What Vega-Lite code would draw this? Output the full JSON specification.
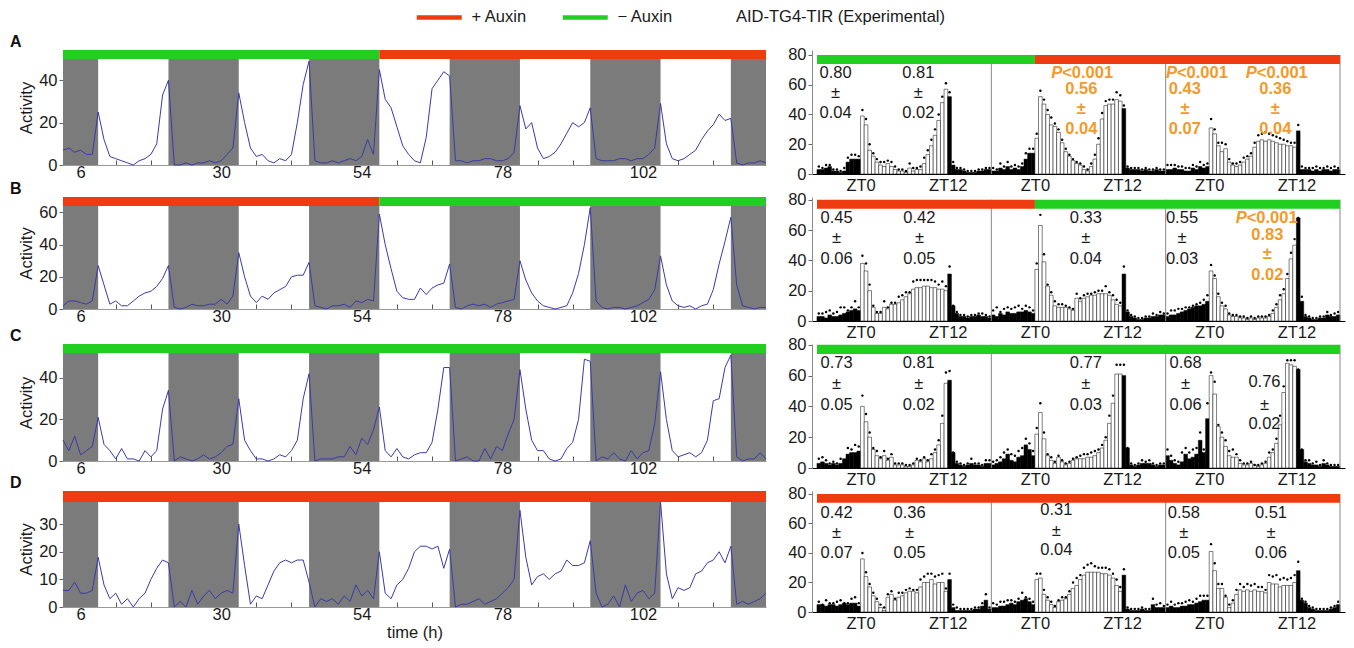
{
"$schema":"https://vega.github.io/schema/vega-lite/v6.json",
"padding":{"left":10,"top":9,"right":9,"bottom":3},
"background":"#ffffff",
"spacing":-13,
"config":{"view":{"stroke":null},"font":"Liberation Sans","axis":{"labelFont":"Liberation Sans","labelFontSize":16.5,"labelColor":"#1a1a1a","titleFont":"Liberation Sans","titleFontSize":16.5,"titleFontWeight":"normal","titleColor":"#1a1a1a","grid":false,"tickColor":"#666","domainColor":"#888","labelOverlap":false},"text":{"font":"Liberation Sans"},"title":{"font":"Liberation Sans"}},
"datasets":{
"DK":[{"a":3,"b":9},{"a":21,"b":33},{"a":45,"b":57},{"a":69,"b":81},{"a":93,"b":105},{"a":117,"b":123}],
"DV":[{"x":47.5},{"x":95.5},{"x":143.5}],
"TL":[{"p":"A","a":3,"b":57,"c":"− Auxin"},{"p":"A","a":57,"b":123,"c":"+ Auxin"},{"p":"B","a":3,"b":57,"c":"+ Auxin"},{"p":"B","a":57,"b":123,"c":"− Auxin"},{"p":"C","a":3,"b":123,"c":"− Auxin"},{"p":"D","a":3,"b":123,"c":"+ Auxin"}],
"TR":[{"p":"A","a":-0.5,"b":59.5,"c":"− Auxin"},{"p":"A","a":59.5,"b":143.5,"c":"+ Auxin"},{"p":"B","a":-0.5,"b":59.5,"c":"+ Auxin"},{"p":"B","a":59.5,"b":143.5,"c":"− Auxin"},{"p":"C","a":-0.5,"b":143.5,"c":"− Auxin"},{"p":"D","a":-0.5,"b":143.5,"c":"+ Auxin"}],
"PL":[{"p":"A","x":67,"y":68},{"p":"A","x":98.6,"y":68},{"p":"A","x":120.6,"y":68},{"p":"B","x":117.8,"y":68}],
"N":[
{"p":"A","x":4.6,"y":68,"t":"0.80","o":0},{"p":"A","x":4.6,"y":54.5,"t":"±","o":0},{"p":"A","x":4.6,"y":41,"t":"0.04","o":0},
{"p":"A","x":27.4,"y":68,"t":"0.81","o":0},{"p":"A","x":27.4,"y":54.5,"t":"±","o":0},{"p":"A","x":27.4,"y":41,"t":"0.02","o":0},
{"p":"A","x":72.3,"y":57,"t":"0.56","o":1},{"p":"A","x":72.3,"y":44,"t":"±","o":1},{"p":"A","x":72.3,"y":30.5,"t":"0.04","o":1},
{"p":"A","x":100.8,"y":57,"t":"0.43","o":1},{"p":"A","x":100.8,"y":44,"t":"±","o":1},{"p":"A","x":100.8,"y":30.5,"t":"0.07","o":1},
{"p":"A","x":125.7,"y":57,"t":"0.36","o":1},{"p":"A","x":125.7,"y":44,"t":"±","o":1},{"p":"A","x":125.7,"y":30.5,"t":"0.04","o":1},
{"p":"B","x":4.9,"y":68,"t":"0.45","o":0},{"p":"B","x":4.9,"y":54.5,"t":"±","o":0},{"p":"B","x":4.9,"y":41,"t":"0.06","o":0},
{"p":"B","x":27.7,"y":68,"t":"0.42","o":0},{"p":"B","x":27.7,"y":54.5,"t":"±","o":0},{"p":"B","x":27.7,"y":41,"t":"0.05","o":0},
{"p":"B","x":73.5,"y":68,"t":"0.33","o":0},{"p":"B","x":73.5,"y":54.5,"t":"±","o":0},{"p":"B","x":73.5,"y":41,"t":"0.04","o":0},
{"p":"B","x":100,"y":68,"t":"0.55","o":0},{"p":"B","x":100,"y":54.5,"t":"±","o":0},{"p":"B","x":100,"y":41,"t":"0.03","o":0},
{"p":"B","x":123.5,"y":57,"t":"0.83","o":1},{"p":"B","x":123.5,"y":44,"t":"±","o":1},{"p":"B","x":123.5,"y":30.5,"t":"0.02","o":1},
{"p":"C","x":4.9,"y":68,"t":"0.73","o":0},{"p":"C","x":4.9,"y":54.5,"t":"±","o":0},{"p":"C","x":4.9,"y":41,"t":"0.05","o":0},
{"p":"C","x":27.5,"y":68,"t":"0.81","o":0},{"p":"C","x":27.5,"y":54.5,"t":"±","o":0},{"p":"C","x":27.5,"y":41,"t":"0.02","o":0},
{"p":"C","x":73.5,"y":68,"t":"0.77","o":0},{"p":"C","x":73.5,"y":54.5,"t":"±","o":0},{"p":"C","x":73.5,"y":41,"t":"0.03","o":0},
{"p":"C","x":101,"y":68,"t":"0.68","o":0},{"p":"C","x":101,"y":54.5,"t":"±","o":0},{"p":"C","x":101,"y":41,"t":"0.06","o":0},
{"p":"C","x":122.7,"y":55.6,"t":"0.76","o":0},{"p":"C","x":122.7,"y":41,"t":"±","o":0},{"p":"C","x":122.7,"y":28.4,"t":"0.02","o":0},
{"p":"D","x":4.9,"y":67,"t":"0.42","o":0},{"p":"D","x":4.9,"y":53.5,"t":"±","o":0},{"p":"D","x":4.9,"y":40,"t":"0.07","o":0},
{"p":"D","x":25,"y":67,"t":"0.36","o":0},{"p":"D","x":25,"y":53.5,"t":"±","o":0},{"p":"D","x":25,"y":40,"t":"0.05","o":0},
{"p":"D","x":65.4,"y":69.2,"t":"0.31","o":0},{"p":"D","x":65.4,"y":54.6,"t":"±","o":0},{"p":"D","x":65.4,"y":42.2,"t":"0.04","o":0},
{"p":"D","x":100.5,"y":67,"t":"0.58","o":0},{"p":"D","x":100.5,"y":53.5,"t":"±","o":0},{"p":"D","x":100.5,"y":40,"t":"0.05","o":0},
{"p":"D","x":124.5,"y":67,"t":"0.51","o":0},{"p":"D","x":124.5,"y":53.5,"t":"±","o":0},{"p":"D","x":124.5,"y":40,"t":"0.06","o":0}],
"LA":[{"t":3,"v":7},{"t":4,"v":8},{"t":5,"v":6},{"t":6,"v":7},{"t":7,"v":5},{"t":8,"v":5},{"t":9,"v":25},{"t":10,"v":12},{"t":11,"v":4},{"t":12,"v":3},{"t":13,"v":2},{"t":14,"v":1},{"t":15,"v":0},{"t":16,"v":2},{"t":17,"v":3},{"t":18,"v":5},{"t":19,"v":10},{"t":20,"v":33},{"t":21,"v":40},{"t":22,"v":0},{"t":23,"v":0},{"t":24,"v":1},{"t":25,"v":0},{"t":26,"v":1},{"t":27,"v":1},{"t":28,"v":2},{"t":29,"v":1},{"t":30,"v":2},{"t":31,"v":5},{"t":32,"v":8},{"t":33,"v":34},{"t":34,"v":20},{"t":35,"v":8},{"t":36,"v":4},{"t":37,"v":5},{"t":38,"v":2},{"t":39,"v":1},{"t":40,"v":3},{"t":41,"v":2},{"t":42,"v":5},{"t":43,"v":20},{"t":44,"v":38},{"t":45,"v":49},{"t":46,"v":2},{"t":47,"v":1},{"t":48,"v":1},{"t":49,"v":2},{"t":50,"v":1},{"t":51,"v":2},{"t":52,"v":3},{"t":53,"v":2},{"t":54,"v":4},{"t":55,"v":12},{"t":56,"v":5},{"t":57,"v":45},{"t":58,"v":31},{"t":59,"v":27},{"t":60,"v":18},{"t":61,"v":9},{"t":62,"v":5},{"t":63,"v":2},{"t":64,"v":1},{"t":65,"v":13},{"t":66,"v":36},{"t":67,"v":40},{"t":68,"v":44},{"t":69,"v":42},{"t":70,"v":2},{"t":71,"v":2},{"t":72,"v":1},{"t":73,"v":2},{"t":74,"v":2},{"t":75,"v":3},{"t":76,"v":3},{"t":77,"v":2},{"t":78,"v":2},{"t":79,"v":3},{"t":80,"v":6},{"t":81,"v":28},{"t":82,"v":17},{"t":83,"v":20},{"t":84,"v":8},{"t":85,"v":3},{"t":86,"v":4},{"t":87,"v":6},{"t":88,"v":10},{"t":89,"v":15},{"t":90,"v":20},{"t":91,"v":18},{"t":92,"v":20},{"t":93,"v":27},{"t":94,"v":3},{"t":95,"v":2},{"t":96,"v":2},{"t":97,"v":2},{"t":98,"v":3},{"t":99,"v":3},{"t":100,"v":2},{"t":101,"v":3},{"t":102,"v":3},{"t":103,"v":5},{"t":104,"v":8},{"t":105,"v":29},{"t":106,"v":10},{"t":107,"v":3},{"t":108,"v":2},{"t":109,"v":3},{"t":110,"v":5},{"t":111,"v":7},{"t":112,"v":12},{"t":113,"v":16},{"t":114,"v":19},{"t":115,"v":24},{"t":116,"v":21},{"t":117,"v":22},{"t":118,"v":1},{"t":119,"v":0},{"t":120,"v":1},{"t":121,"v":1},{"t":122,"v":2},{"t":123,"v":1}],
"LB":[{"t":3,"v":2},{"t":4,"v":5},{"t":5,"v":5},{"t":6,"v":4},{"t":7,"v":3},{"t":8,"v":5},{"t":9,"v":27},{"t":10,"v":15},{"t":11,"v":3},{"t":12,"v":5},{"t":13,"v":2},{"t":14,"v":2},{"t":15,"v":5},{"t":16,"v":8},{"t":17,"v":10},{"t":18,"v":11},{"t":19,"v":14},{"t":20,"v":19},{"t":21,"v":27},{"t":22,"v":1},{"t":23,"v":0},{"t":24,"v":1},{"t":25,"v":3},{"t":26,"v":2},{"t":27,"v":2},{"t":28,"v":3},{"t":29,"v":3},{"t":30,"v":6},{"t":31,"v":3},{"t":32,"v":8},{"t":33,"v":35},{"t":34,"v":20},{"t":35,"v":8},{"t":36,"v":4},{"t":37,"v":8},{"t":38,"v":6},{"t":39,"v":10},{"t":40,"v":12},{"t":41,"v":14},{"t":42,"v":20},{"t":43,"v":21},{"t":44,"v":21},{"t":45,"v":29},{"t":46,"v":2},{"t":47,"v":1},{"t":48,"v":0},{"t":49,"v":2},{"t":50,"v":2},{"t":51,"v":3},{"t":52,"v":1},{"t":53,"v":5},{"t":54,"v":4},{"t":55,"v":6},{"t":56,"v":5},{"t":57,"v":59},{"t":58,"v":40},{"t":59,"v":25},{"t":60,"v":11},{"t":61,"v":7},{"t":62,"v":6},{"t":63,"v":6},{"t":64,"v":13},{"t":65,"v":9},{"t":66,"v":13},{"t":67,"v":15},{"t":68,"v":16},{"t":69,"v":28},{"t":70,"v":1},{"t":71,"v":0},{"t":72,"v":2},{"t":73,"v":3},{"t":74,"v":2},{"t":75,"v":3},{"t":76,"v":1},{"t":77,"v":3},{"t":78,"v":4},{"t":79,"v":5},{"t":80,"v":6},{"t":81,"v":30},{"t":82,"v":18},{"t":83,"v":10},{"t":84,"v":5},{"t":85,"v":2},{"t":86,"v":1},{"t":87,"v":0},{"t":88,"v":1},{"t":89,"v":2},{"t":90,"v":10},{"t":91,"v":22},{"t":92,"v":40},{"t":93,"v":63},{"t":94,"v":5},{"t":95,"v":1},{"t":96,"v":0},{"t":97,"v":1},{"t":98,"v":1},{"t":99,"v":0},{"t":100,"v":1},{"t":101,"v":2},{"t":102,"v":4},{"t":103,"v":6},{"t":104,"v":12},{"t":105,"v":33},{"t":106,"v":15},{"t":107,"v":5},{"t":108,"v":2},{"t":109,"v":1},{"t":110,"v":2},{"t":111,"v":0},{"t":112,"v":2},{"t":113,"v":3},{"t":114,"v":12},{"t":115,"v":28},{"t":116,"v":42},{"t":117,"v":57},{"t":118,"v":15},{"t":119,"v":2},{"t":120,"v":1},{"t":121,"v":0},{"t":122,"v":1},{"t":123,"v":1}],
"LC":[{"t":3,"v":10},{"t":4,"v":5},{"t":5,"v":12},{"t":6,"v":3},{"t":7,"v":5},{"t":8,"v":7},{"t":9,"v":21},{"t":10,"v":8},{"t":11,"v":5},{"t":12,"v":1},{"t":13,"v":6},{"t":14,"v":1},{"t":15,"v":1},{"t":16,"v":0},{"t":17,"v":5},{"t":18,"v":2},{"t":19,"v":5},{"t":20,"v":25},{"t":21,"v":34},{"t":22,"v":0},{"t":23,"v":2},{"t":24,"v":1},{"t":25,"v":0},{"t":26,"v":1},{"t":27,"v":3},{"t":28,"v":1},{"t":29,"v":2},{"t":30,"v":4},{"t":31,"v":7},{"t":32,"v":8},{"t":33,"v":30},{"t":34,"v":10},{"t":35,"v":5},{"t":36,"v":1},{"t":37,"v":1},{"t":38,"v":0},{"t":39,"v":1},{"t":40,"v":3},{"t":41,"v":2},{"t":42,"v":5},{"t":43,"v":10},{"t":44,"v":30},{"t":45,"v":42},{"t":46,"v":0},{"t":47,"v":1},{"t":48,"v":1},{"t":49,"v":1},{"t":50,"v":2},{"t":51,"v":2},{"t":52,"v":7},{"t":53,"v":3},{"t":54,"v":11},{"t":55,"v":8},{"t":56,"v":15},{"t":57,"v":26},{"t":58,"v":5},{"t":59,"v":2},{"t":60,"v":6},{"t":61,"v":2},{"t":62,"v":1},{"t":63,"v":3},{"t":64,"v":4},{"t":65,"v":4},{"t":66,"v":9},{"t":67,"v":25},{"t":68,"v":45},{"t":69,"v":45},{"t":70,"v":0},{"t":71,"v":1},{"t":72,"v":2},{"t":73,"v":0},{"t":74,"v":0},{"t":75,"v":6},{"t":76,"v":1},{"t":77,"v":7},{"t":78,"v":5},{"t":79,"v":13},{"t":80,"v":20},{"t":81,"v":44},{"t":82,"v":25},{"t":83,"v":10},{"t":84,"v":5},{"t":85,"v":5},{"t":86,"v":1},{"t":87,"v":0},{"t":88,"v":1},{"t":89,"v":6},{"t":90,"v":9},{"t":91,"v":20},{"t":92,"v":49},{"t":93,"v":48},{"t":94,"v":0},{"t":95,"v":2},{"t":96,"v":1},{"t":97,"v":4},{"t":98,"v":1},{"t":99,"v":0},{"t":100,"v":5},{"t":101,"v":1},{"t":102,"v":4},{"t":103,"v":5},{"t":104,"v":18},{"t":105,"v":43},{"t":106,"v":20},{"t":107,"v":5},{"t":108,"v":2},{"t":109,"v":3},{"t":110,"v":4},{"t":111,"v":2},{"t":112,"v":4},{"t":113,"v":10},{"t":114,"v":29},{"t":115,"v":30},{"t":116,"v":45},{"t":117,"v":51},{"t":118,"v":2},{"t":119,"v":0},{"t":120,"v":1},{"t":121,"v":1},{"t":122,"v":4},{"t":123,"v":1}],
"LD":[{"t":3,"v":6},{"t":4,"v":6},{"t":5,"v":9},{"t":6,"v":5},{"t":7,"v":5},{"t":8,"v":6},{"t":9,"v":18},{"t":10,"v":8},{"t":11,"v":3},{"t":12,"v":5},{"t":13,"v":1},{"t":14,"v":3},{"t":15,"v":0},{"t":16,"v":3},{"t":17,"v":5},{"t":18,"v":10},{"t":19,"v":14},{"t":20,"v":17},{"t":21,"v":16},{"t":22,"v":0},{"t":23,"v":2},{"t":24,"v":0},{"t":25,"v":6},{"t":26,"v":1},{"t":27,"v":4},{"t":28,"v":6},{"t":29,"v":3},{"t":30,"v":5},{"t":31,"v":6},{"t":32,"v":5},{"t":33,"v":30},{"t":34,"v":15},{"t":35,"v":1},{"t":36,"v":4},{"t":37,"v":3},{"t":38,"v":8},{"t":39,"v":13},{"t":40,"v":16},{"t":41,"v":17},{"t":42,"v":16},{"t":43,"v":17},{"t":44,"v":17},{"t":45,"v":9},{"t":46,"v":0},{"t":47,"v":3},{"t":48,"v":2},{"t":49,"v":3},{"t":50,"v":1},{"t":51,"v":4},{"t":52,"v":2},{"t":53,"v":8},{"t":54,"v":4},{"t":55,"v":6},{"t":56,"v":3},{"t":57,"v":20},{"t":58,"v":5},{"t":59,"v":3},{"t":60,"v":8},{"t":61,"v":10},{"t":62,"v":14},{"t":63,"v":20},{"t":64,"v":22},{"t":65,"v":22},{"t":66,"v":21},{"t":67,"v":22},{"t":68,"v":14},{"t":69,"v":21},{"t":70,"v":0},{"t":71,"v":1},{"t":72,"v":1},{"t":73,"v":2},{"t":74,"v":3},{"t":75,"v":1},{"t":76,"v":2},{"t":77,"v":3},{"t":78,"v":5},{"t":79,"v":7},{"t":80,"v":10},{"t":81,"v":35},{"t":82,"v":18},{"t":83,"v":8},{"t":84,"v":11},{"t":85,"v":12},{"t":86,"v":10},{"t":87,"v":12},{"t":88,"v":13},{"t":89,"v":17},{"t":90,"v":15},{"t":91,"v":15},{"t":92,"v":16},{"t":93,"v":24},{"t":94,"v":5},{"t":95,"v":0},{"t":96,"v":1},{"t":97,"v":4},{"t":98,"v":0},{"t":99,"v":8},{"t":100,"v":2},{"t":101,"v":5},{"t":102,"v":6},{"t":103,"v":3},{"t":104,"v":5},{"t":105,"v":38},{"t":106,"v":12},{"t":107,"v":3},{"t":108,"v":7},{"t":109,"v":6},{"t":110,"v":7},{"t":111,"v":12},{"t":112,"v":13},{"t":113,"v":16},{"t":114,"v":17},{"t":115,"v":20},{"t":116,"v":16},{"t":117,"v":22},{"t":118,"v":1},{"t":119,"v":2},{"t":120,"v":1},{"t":121,"v":2},{"t":122,"v":3},{"t":123,"v":5}],
"RA":[{"x":0,"v":3,"d":5},{"x":1,"v":3,"d":4},{"x":2,"v":4,"d":6},{"x":3,"v":5,"d":6},{"x":4,"v":2,"d":3},{"x":5,"v":2,"d":3},{"x":6,"v":1,"d":2},{"x":7,"v":2,"d":4},{"x":8,"v":8,"d":11},{"x":9,"v":10,"d":13},{"x":10,"v":10,"d":13},{"x":11,"v":10,"d":12},{"x":12,"v":39,"d":43},{"x":13,"v":33,"d":37},{"x":14,"v":16,"d":20},{"x":15,"v":12,"d":14},{"x":16,"v":8,"d":10},{"x":17,"v":6,"d":8},{"x":18,"v":5,"d":8},{"x":19,"v":7,"d":9},{"x":20,"v":5,"d":8},{"x":21,"v":3,"d":5},{"x":22,"v":2,"d":3},{"x":23,"v":2,"d":3},{"x":24,"v":1,"d":2},{"x":25,"v":4,"d":7},{"x":26,"v":2,"d":4},{"x":27,"v":3,"d":4},{"x":28,"v":3,"d":5},{"x":29,"v":7,"d":11},{"x":30,"v":13,"d":16},{"x":31,"v":19,"d":23},{"x":32,"v":26,"d":30},{"x":33,"v":36,"d":40},{"x":34,"v":48,"d":52},{"x":35,"v":57,"d":61},{"x":36,"v":52,"d":55},{"x":37,"v":6,"d":8},{"x":38,"v":3,"d":4},{"x":39,"v":3,"d":4},{"x":40,"v":2,"d":3},{"x":41,"v":1,"d":2},{"x":42,"v":1,"d":2},{"x":43,"v":1,"d":2},{"x":44,"v":2,"d":3},{"x":45,"v":2,"d":3},{"x":46,"v":3,"d":4},{"x":47,"v":3,"d":4},{"x":48,"v":2,"d":4},{"x":49,"v":2,"d":3},{"x":50,"v":4,"d":7},{"x":51,"v":3,"d":5},{"x":52,"v":5,"d":8},{"x":53,"v":3,"d":5},{"x":54,"v":4,"d":6},{"x":55,"v":3,"d":5},{"x":56,"v":5,"d":7},{"x":57,"v":10,"d":14},{"x":58,"v":14,"d":17},{"x":59,"v":14,"d":17},{"x":60,"v":24,"d":27},{"x":61,"v":52,"d":56},{"x":62,"v":47,"d":50},{"x":63,"v":40,"d":43},{"x":64,"v":33,"d":38},{"x":65,"v":32,"d":34},{"x":66,"v":28,"d":30},{"x":67,"v":21,"d":23},{"x":68,"v":15,"d":17},{"x":69,"v":12,"d":13},{"x":70,"v":9,"d":10},{"x":71,"v":7,"d":8},{"x":72,"v":6,"d":7},{"x":73,"v":3,"d":5},{"x":74,"v":2,"d":3},{"x":75,"v":5,"d":7},{"x":76,"v":10,"d":13},{"x":77,"v":20,"d":24},{"x":78,"v":37,"d":41},{"x":79,"v":46,"d":49},{"x":80,"v":47,"d":50},{"x":81,"v":47,"d":50},{"x":82,"v":50,"d":55},{"x":83,"v":49,"d":53},{"x":84,"v":44,"d":46},{"x":85,"v":4,"d":5},{"x":86,"v":3,"d":4},{"x":87,"v":3,"d":4},{"x":88,"v":3,"d":4},{"x":89,"v":2,"d":3},{"x":90,"v":3,"d":4},{"x":91,"v":2,"d":3},{"x":92,"v":2,"d":3},{"x":93,"v":3,"d":4},{"x":94,"v":2,"d":3},{"x":95,"v":2,"d":3},{"x":96,"v":3,"d":6},{"x":97,"v":3,"d":6},{"x":98,"v":4,"d":6},{"x":99,"v":3,"d":5},{"x":100,"v":3,"d":5},{"x":101,"v":2,"d":4},{"x":102,"v":2,"d":4},{"x":103,"v":4,"d":6},{"x":104,"v":3,"d":5},{"x":105,"v":5,"d":8},{"x":106,"v":4,"d":6},{"x":107,"v":5,"d":7},{"x":108,"v":31,"d":37},{"x":109,"v":27,"d":30},{"x":110,"v":19,"d":21},{"x":111,"v":15,"d":21},{"x":112,"v":17,"d":20},{"x":113,"v":8,"d":10},{"x":114,"v":6,"d":7},{"x":115,"v":5,"d":7},{"x":116,"v":6,"d":8},{"x":117,"v":8,"d":11},{"x":118,"v":10,"d":12},{"x":119,"v":12,"d":14},{"x":120,"v":18,"d":21},{"x":121,"v":22,"d":26},{"x":122,"v":23,"d":27},{"x":123,"v":22,"d":28},{"x":124,"v":23,"d":27},{"x":125,"v":22,"d":26},{"x":126,"v":21,"d":25},{"x":127,"v":20,"d":24},{"x":128,"v":20,"d":23},{"x":129,"v":19,"d":22},{"x":130,"v":19,"d":21},{"x":131,"v":18,"d":21},{"x":132,"v":29,"d":33},{"x":133,"v":3,"d":5},{"x":134,"v":3,"d":4},{"x":135,"v":3,"d":4},{"x":136,"v":2,"d":4},{"x":137,"v":3,"d":5},{"x":138,"v":2,"d":4},{"x":139,"v":3,"d":4},{"x":140,"v":3,"d":5},{"x":141,"v":2,"d":4},{"x":142,"v":3,"d":5},{"x":143,"v":3,"d":4}],
"RB":[{"x":0,"v":3,"d":5},{"x":1,"v":3,"d":5},{"x":2,"v":2,"d":6},{"x":3,"v":4,"d":7},{"x":4,"v":3,"d":5},{"x":5,"v":3,"d":6},{"x":6,"v":4,"d":9},{"x":7,"v":5,"d":9},{"x":8,"v":6,"d":7},{"x":9,"v":7,"d":9},{"x":10,"v":8,"d":13},{"x":11,"v":7,"d":9},{"x":12,"v":38,"d":43},{"x":13,"v":33,"d":38},{"x":14,"v":20,"d":24},{"x":15,"v":9,"d":10},{"x":16,"v":5,"d":6},{"x":17,"v":5,"d":6},{"x":18,"v":9,"d":13},{"x":19,"v":8,"d":9},{"x":20,"v":11,"d":12},{"x":21,"v":11,"d":12},{"x":22,"v":12,"d":16},{"x":23,"v":14,"d":17},{"x":24,"v":16,"d":19},{"x":25,"v":18,"d":19},{"x":26,"v":21,"d":26},{"x":27,"v":22,"d":27},{"x":28,"v":22,"d":27},{"x":29,"v":23,"d":27},{"x":30,"v":23,"d":27},{"x":31,"v":22,"d":27},{"x":32,"v":22,"d":26},{"x":33,"v":21,"d":24},{"x":34,"v":21,"d":26},{"x":35,"v":20,"d":23},{"x":36,"v":31,"d":36},{"x":37,"v":10,"d":10},{"x":38,"v":5,"d":6},{"x":39,"v":3,"d":4},{"x":40,"v":3,"d":4},{"x":41,"v":2,"d":3},{"x":42,"v":3,"d":4},{"x":43,"v":3,"d":4},{"x":44,"v":4,"d":5},{"x":45,"v":3,"d":5},{"x":46,"v":3,"d":4},{"x":47,"v":2,"d":3},{"x":48,"v":4,"d":7},{"x":49,"v":3,"d":9},{"x":50,"v":5,"d":6},{"x":51,"v":4,"d":8},{"x":52,"v":6,"d":9},{"x":53,"v":5,"d":8},{"x":54,"v":5,"d":9},{"x":55,"v":6,"d":10},{"x":56,"v":6,"d":8},{"x":57,"v":7,"d":10},{"x":58,"v":6,"d":9},{"x":59,"v":5,"d":7},{"x":60,"v":34,"d":38},{"x":61,"v":63,"d":70},{"x":62,"v":39,"d":44},{"x":63,"v":23,"d":24},{"x":64,"v":17,"d":19},{"x":65,"v":10,"d":13},{"x":66,"v":9,"d":11},{"x":67,"v":9,"d":11},{"x":68,"v":9,"d":10},{"x":69,"v":8,"d":9},{"x":70,"v":7,"d":8},{"x":71,"v":15,"d":18},{"x":72,"v":13,"d":15},{"x":73,"v":15,"d":17},{"x":74,"v":16,"d":18},{"x":75,"v":17,"d":18},{"x":76,"v":17,"d":19},{"x":77,"v":18,"d":20},{"x":78,"v":18,"d":20},{"x":79,"v":18,"d":23},{"x":80,"v":17,"d":19},{"x":81,"v":14,"d":17},{"x":82,"v":11,"d":14},{"x":83,"v":10,"d":12},{"x":84,"v":31,"d":36},{"x":85,"v":6,"d":7},{"x":86,"v":3,"d":4},{"x":87,"v":2,"d":3},{"x":88,"v":1,"d":2},{"x":89,"v":1,"d":2},{"x":90,"v":2,"d":3},{"x":91,"v":2,"d":3},{"x":92,"v":3,"d":5},{"x":93,"v":3,"d":4},{"x":94,"v":4,"d":6},{"x":95,"v":4,"d":5},{"x":96,"v":3,"d":5},{"x":97,"v":4,"d":7},{"x":98,"v":4,"d":7},{"x":99,"v":5,"d":8},{"x":100,"v":6,"d":8},{"x":101,"v":7,"d":9},{"x":102,"v":8,"d":9},{"x":103,"v":9,"d":10},{"x":104,"v":10,"d":11},{"x":105,"v":10,"d":12},{"x":106,"v":11,"d":14},{"x":107,"v":13,"d":17},{"x":108,"v":33,"d":37},{"x":109,"v":28,"d":30},{"x":110,"v":16,"d":18},{"x":111,"v":10,"d":12},{"x":112,"v":8,"d":10},{"x":113,"v":4,"d":5},{"x":114,"v":3,"d":4},{"x":115,"v":3,"d":4},{"x":116,"v":2,"d":3},{"x":117,"v":2,"d":3},{"x":118,"v":1,"d":2},{"x":119,"v":2,"d":3},{"x":120,"v":1,"d":2},{"x":121,"v":2,"d":3},{"x":122,"v":2,"d":3},{"x":123,"v":2,"d":3},{"x":124,"v":3,"d":4},{"x":125,"v":5,"d":7},{"x":126,"v":9,"d":11},{"x":127,"v":14,"d":17},{"x":128,"v":18,"d":21},{"x":129,"v":28,"d":31},{"x":130,"v":41,"d":45},{"x":131,"v":50,"d":54},{"x":132,"v":68,"d":68},{"x":133,"v":13,"d":16},{"x":134,"v":3,"d":4},{"x":135,"v":2,"d":3},{"x":136,"v":1,"d":2},{"x":137,"v":1,"d":2},{"x":138,"v":2,"d":3},{"x":139,"v":2,"d":3},{"x":140,"v":4,"d":6},{"x":141,"v":3,"d":4},{"x":142,"v":3,"d":5},{"x":143,"v":4,"d":6}],
"RC":[{"x":0,"v":3,"d":6},{"x":1,"v":4,"d":7},{"x":2,"v":3,"d":5},{"x":3,"v":2,"d":3},{"x":4,"v":3,"d":4},{"x":5,"v":2,"d":3},{"x":6,"v":3,"d":6},{"x":7,"v":6,"d":5},{"x":8,"v":9,"d":13},{"x":9,"v":10,"d":12},{"x":10,"v":10,"d":15},{"x":11,"v":11,"d":14},{"x":12,"v":40,"d":47},{"x":13,"v":30,"d":35},{"x":14,"v":20,"d":23},{"x":15,"v":12,"d":13},{"x":16,"v":8,"d":11},{"x":17,"v":6,"d":7},{"x":18,"v":8,"d":11},{"x":19,"v":5,"d":6},{"x":20,"v":7,"d":9},{"x":21,"v":2,"d":3},{"x":22,"v":2,"d":3},{"x":23,"v":2,"d":3},{"x":24,"v":1,"d":2},{"x":25,"v":1,"d":2},{"x":26,"v":2,"d":3},{"x":27,"v":5,"d":6},{"x":28,"v":4,"d":5},{"x":29,"v":6,"d":7},{"x":30,"v":4,"d":5},{"x":31,"v":6,"d":9},{"x":32,"v":10,"d":12},{"x":33,"v":15,"d":18},{"x":34,"v":29,"d":34},{"x":35,"v":55,"d":62},{"x":36,"v":57,"d":63},{"x":37,"v":10,"d":10},{"x":38,"v":3,"d":4},{"x":39,"v":2,"d":3},{"x":40,"v":1,"d":2},{"x":41,"v":2,"d":3},{"x":42,"v":3,"d":6},{"x":43,"v":2,"d":3},{"x":44,"v":2,"d":3},{"x":45,"v":1,"d":2},{"x":46,"v":3,"d":5},{"x":47,"v":3,"d":5},{"x":48,"v":2,"d":4},{"x":49,"v":3,"d":5},{"x":50,"v":4,"d":7},{"x":51,"v":6,"d":10},{"x":52,"v":9,"d":12},{"x":53,"v":5,"d":9},{"x":54,"v":4,"d":8},{"x":55,"v":7,"d":11},{"x":56,"v":8,"d":13},{"x":57,"v":15,"d":19},{"x":58,"v":12,"d":16},{"x":59,"v":8,"d":11},{"x":60,"v":22,"d":26},{"x":61,"v":36,"d":42},{"x":62,"v":19,"d":23},{"x":63,"v":8,"d":9},{"x":64,"v":5,"d":7},{"x":65,"v":3,"d":4},{"x":66,"v":7,"d":8},{"x":67,"v":4,"d":5},{"x":68,"v":2,"d":3},{"x":69,"v":3,"d":4},{"x":70,"v":5,"d":6},{"x":71,"v":6,"d":7},{"x":72,"v":6,"d":8},{"x":73,"v":6,"d":9},{"x":74,"v":7,"d":9},{"x":75,"v":7,"d":10},{"x":76,"v":8,"d":11},{"x":77,"v":10,"d":12},{"x":78,"v":13,"d":15},{"x":79,"v":18,"d":20},{"x":80,"v":29,"d":34},{"x":81,"v":42,"d":47},{"x":82,"v":61,"d":67},{"x":83,"v":61,"d":67},{"x":84,"v":60,"d":67},{"x":85,"v":13,"d":13},{"x":86,"v":2,"d":3},{"x":87,"v":1,"d":2},{"x":88,"v":2,"d":3},{"x":89,"v":3,"d":5},{"x":90,"v":3,"d":4},{"x":91,"v":3,"d":5},{"x":92,"v":2,"d":3},{"x":93,"v":1,"d":2},{"x":94,"v":2,"d":3},{"x":95,"v":2,"d":3},{"x":96,"v":8,"d":12},{"x":97,"v":5,"d":8},{"x":98,"v":3,"d":5},{"x":99,"v":2,"d":4},{"x":100,"v":4,"d":10},{"x":101,"v":9,"d":13},{"x":102,"v":6,"d":10},{"x":103,"v":7,"d":12},{"x":104,"v":9,"d":13},{"x":105,"v":18,"d":23},{"x":106,"v":10,"d":12},{"x":107,"v":32,"d":42},{"x":108,"v":60,"d":62},{"x":109,"v":48,"d":56},{"x":110,"v":27,"d":28},{"x":111,"v":20,"d":23},{"x":112,"v":14,"d":18},{"x":113,"v":8,"d":11},{"x":114,"v":7,"d":12},{"x":115,"v":7,"d":9},{"x":116,"v":3,"d":5},{"x":117,"v":2,"d":3},{"x":118,"v":2,"d":3},{"x":119,"v":3,"d":4},{"x":120,"v":2,"d":2},{"x":121,"v":1,"d":2},{"x":122,"v":2,"d":3},{"x":123,"v":3,"d":4},{"x":124,"v":7,"d":10},{"x":125,"v":10,"d":12},{"x":126,"v":16,"d":19},{"x":127,"v":28,"d":34},{"x":128,"v":49,"d":53},{"x":129,"v":68,"d":70},{"x":130,"v":67,"d":70},{"x":131,"v":66,"d":70},{"x":132,"v":64,"d":64},{"x":133,"v":12,"d":12},{"x":134,"v":4,"d":5},{"x":135,"v":3,"d":5},{"x":136,"v":2,"d":3},{"x":137,"v":2,"d":4},{"x":138,"v":1,"d":2},{"x":139,"v":3,"d":5},{"x":140,"v":2,"d":3},{"x":141,"v":1,"d":2},{"x":142,"v":1,"d":2},{"x":143,"v":1,"d":2}],
"RD":[{"x":0,"v":5,"d":7},{"x":1,"v":5,"d":5},{"x":2,"v":4,"d":8},{"x":3,"v":5,"d":6},{"x":4,"v":5,"d":6},{"x":5,"v":4,"d":7},{"x":6,"v":5,"d":8},{"x":7,"v":6,"d":6},{"x":8,"v":5,"d":6},{"x":9,"v":6,"d":9},{"x":10,"v":6,"d":10},{"x":11,"v":4,"d":6},{"x":12,"v":36,"d":40},{"x":13,"v":24,"d":27},{"x":14,"v":17,"d":19},{"x":15,"v":11,"d":13},{"x":16,"v":7,"d":9},{"x":17,"v":3,"d":5},{"x":18,"v":1,"d":3},{"x":19,"v":10,"d":12},{"x":20,"v":12,"d":14},{"x":21,"v":8,"d":9},{"x":22,"v":10,"d":13},{"x":23,"v":11,"d":13},{"x":24,"v":13,"d":15},{"x":25,"v":14,"d":16},{"x":26,"v":14,"d":15},{"x":27,"v":13,"d":15},{"x":28,"v":17,"d":22},{"x":29,"v":20,"d":24},{"x":30,"v":20,"d":26},{"x":31,"v":22,"d":26},{"x":32,"v":19,"d":24},{"x":33,"v":20,"d":25},{"x":34,"v":20,"d":26},{"x":35,"v":14,"d":16},{"x":36,"v":22,"d":26},{"x":37,"v":3,"d":5},{"x":38,"v":1,"d":3},{"x":39,"v":1,"d":2},{"x":40,"v":1,"d":2},{"x":41,"v":1,"d":2},{"x":42,"v":1,"d":2},{"x":43,"v":2,"d":3},{"x":44,"v":2,"d":3},{"x":45,"v":4,"d":6},{"x":46,"v":8,"d":12},{"x":47,"v":2,"d":3},{"x":48,"v":3,"d":6},{"x":49,"v":3,"d":5},{"x":50,"v":4,"d":7},{"x":51,"v":4,"d":7},{"x":52,"v":5,"d":8},{"x":53,"v":6,"d":8},{"x":54,"v":5,"d":7},{"x":55,"v":7,"d":9},{"x":56,"v":8,"d":13},{"x":57,"v":9,"d":10},{"x":58,"v":7,"d":9},{"x":59,"v":5,"d":7},{"x":60,"v":22,"d":26},{"x":61,"v":23,"d":26},{"x":62,"v":12,"d":15},{"x":63,"v":8,"d":10},{"x":64,"v":5,"d":7},{"x":65,"v":3,"d":4},{"x":66,"v":7,"d":8},{"x":67,"v":8,"d":10},{"x":68,"v":9,"d":10},{"x":69,"v":12,"d":14},{"x":70,"v":16,"d":20},{"x":71,"v":18,"d":23},{"x":72,"v":22,"d":25},{"x":73,"v":25,"d":30},{"x":74,"v":27,"d":32},{"x":75,"v":27,"d":33},{"x":76,"v":27,"d":31},{"x":77,"v":27,"d":30},{"x":78,"v":26,"d":30},{"x":79,"v":26,"d":30},{"x":80,"v":25,"d":29},{"x":81,"v":23,"d":26},{"x":82,"v":18,"d":22},{"x":83,"v":14,"d":17},{"x":84,"v":25,"d":29},{"x":85,"v":2,"d":3},{"x":86,"v":1,"d":2},{"x":87,"v":1,"d":2},{"x":88,"v":1,"d":2},{"x":89,"v":2,"d":3},{"x":90,"v":1,"d":2},{"x":91,"v":1,"d":2},{"x":92,"v":5,"d":9},{"x":93,"v":3,"d":5},{"x":94,"v":3,"d":6},{"x":95,"v":3,"d":4},{"x":96,"v":3,"d":5},{"x":97,"v":4,"d":7},{"x":98,"v":3,"d":5},{"x":99,"v":3,"d":6},{"x":100,"v":4,"d":6},{"x":101,"v":4,"d":7},{"x":102,"v":5,"d":8},{"x":103,"v":5,"d":7},{"x":104,"v":6,"d":9},{"x":105,"v":7,"d":11},{"x":106,"v":8,"d":11},{"x":107,"v":8,"d":11},{"x":108,"v":41,"d":46},{"x":109,"v":28,"d":33},{"x":110,"v":16,"d":19},{"x":111,"v":16,"d":19},{"x":112,"v":10,"d":11},{"x":113,"v":3,"d":5},{"x":114,"v":6,"d":8},{"x":115,"v":12,"d":15},{"x":116,"v":15,"d":19},{"x":117,"v":14,"d":17},{"x":118,"v":15,"d":19},{"x":119,"v":14,"d":18},{"x":120,"v":15,"d":19},{"x":121,"v":14,"d":17},{"x":122,"v":14,"d":17},{"x":123,"v":13,"d":15},{"x":124,"v":20,"d":25},{"x":125,"v":19,"d":24},{"x":126,"v":19,"d":25},{"x":127,"v":17,"d":22},{"x":128,"v":18,"d":23},{"x":129,"v":18,"d":22},{"x":130,"v":18,"d":23},{"x":131,"v":20,"d":25},{"x":132,"v":28,"d":34},{"x":133,"v":8,"d":9},{"x":134,"v":6,"d":7},{"x":135,"v":3,"d":4},{"x":136,"v":2,"d":3},{"x":137,"v":1,"d":2},{"x":138,"v":1,"d":2},{"x":139,"v":1,"d":2},{"x":140,"v":1,"d":2},{"x":141,"v":2,"d":3},{"x":142,"v":3,"d":4},{"x":143,"v":5,"d":7}]
},
"vconcat":[
{"hconcat":[
{"width":703,"height":115,"title":{"text":"A","anchor":"start","frame":"group","dx":-53,"offset":0,"fontSize":16,"fontWeight":"bold","color":"#111"},
"layer":[
{"data":{"name":"DK"},"mark":{"type":"rect","color":"#7b7b7b"},"encoding":{"x":{"field":"a","type":"quantitative","scale":{"domain":[3,123],"nice":false,"zero":false},"axis":{"values":[6,12,18,24,30,36,42,48,54,60,66,72,78,84,90,96,102,108,114,120],"tickCount":40,"labelExpr":"(datum.value-6)%24==0?datum.label:''","tickSize":-5,"title":null,"labelOverlap":false,"labelPadding":4,"domainColor":"#999","tickColor":"#555"}},"x2":{"field":"b"},"y":{"datum":0,"type":"quantitative","scale":{"domain":[0,54.25],"nice":false,"zero":false},"axis":{"values":[0,20,40],"tickCount":40,"title":"Activity","domain":false,"tickSize":4,"labelPadding":2,"titlePadding":4,"labelOverlap":false}},"y2":{"datum":50}}},
{"data":{"name":"TL"},"transform":[{"filter":"datum.p=='A'"}],"mark":"rect","encoding":{"x":{"field":"a","type":"quantitative"},"x2":{"field":"b"},"y":{"datum":50,"type":"quantitative"},"y2":{"datum":54.25},"color":{"field":"c","type":"nominal","scale":{"domain":["+ Auxin","− Auxin"],"range":["#EE3B10","#21CF21"]},"legend":{"orient":"none","legendX":368,"legendY":-41,"direction":"horizontal","title":"AID-TG4-TIR (Experimental)","titleOrient":"right","titleAnchor":"middle","titleBaseline":"middle","titleLimit":600,"titlePadding":63,"titleFontSize":16.5,"titleFontWeight":"normal","titleFont":"Liberation Sans","titleColor":"#1a1a1a","labelFontSize":16.5,"labelFont":"Liberation Sans","labelColor":"#1a1a1a","symbolType":"M-3,-0.3H3V0.3H-3Z","symbolSize":225,"symbolStrokeWidth":0,"symbolOpacity":1,"labelOffset":24,"columnPadding":35}}}},
{"data":{"name":"LA"},"mark":{"type":"line","color":"#3a3aa8","strokeWidth":1},"encoding":{"x":{"field":"t","type":"quantitative"},"y":{"field":"v","type":"quantitative"}}}
]},
{"width":533,"height":124,
"layer":[
{"data":{"name":"RA"},"mark":{"type":"bar","orient":"vertical","width":3.7,"stroke":"#000","strokeWidth":0.5},"encoding":{"x":{"field":"x","type":"quantitative","scale":{"domain":[-0.5,143.5],"nice":false,"zero":false},"axis":{"values":[11.5,35.5,59.5,83.5,107.5,131.5],"tickCount":40,"labelExpr":"(datum.value-11.5)%48==0?'ZT0':'ZT12'","ticks":false,"domainColor":"#000","title":null,"labelPadding":3,"labelOverlap":false}},"y":{"field":"v","type":"quantitative","scale":{"domain":[0,83.36],"nice":false},"axis":{"values":[0,20,40,60,80],"tickCount":40,"title":null,"tickSize":4,"labelPadding":2,"labelOverlap":false}},"fill":{"condition":{"test":"datum.x%48>=12&&datum.x%48<36","value":"#ffffff"},"value":"#000000"}}},
{"data":{"name":"RA"},"mark":{"type":"circle","size":6,"color":"#000","opacity":1},"encoding":{"x":{"field":"x","type":"quantitative"},"y":{"field":"d","type":"quantitative"}}},
{"data":{"name":"DV"},"mark":{"type":"rule","color":"#888"},"encoding":{"x":{"field":"x","type":"quantitative"},"y":{"datum":0,"type":"quantitative"},"y2":{"datum":80}}},
{"data":{"name":"TR"},"transform":[{"filter":"datum.p=='A'"}],"mark":"rect","encoding":{"x":{"field":"a","type":"quantitative"},"x2":{"field":"b"},"y":{"datum":74,"type":"quantitative"},"y2":{"datum":80},"color":{"field":"c","type":"nominal","scale":{"domain":["+ Auxin","− Auxin"],"range":["#EE3B10","#21CF21"]}}}},
{"data":{"name":"N"},"transform":[{"filter":"datum.p=='A'&&datum.o==0"}],"mark":{"type":"text","fontSize":16.5,"color":"#1a1a1a"},"encoding":{"x":{"field":"x","type":"quantitative"},"y":{"field":"y","type":"quantitative"},"text":{"field":"t"}}},
{"data":{"name":"N"},"transform":[{"filter":"datum.p=='A'&&datum.o==1"}],"mark":{"type":"text","fontSize":16.5,"fontWeight":"bold","color":"#F39A2B"},"encoding":{"x":{"field":"x","type":"quantitative"},"y":{"field":"y","type":"quantitative"},"text":{"field":"t"}}},
{"data":{"name":"PL"},"transform":[{"filter":"datum.p=='A'"}],"mark":{"type":"text","text":"P","align":"right","fontSize":16.5,"fontWeight":"bold","fontStyle":"italic","color":"#F39A2B"},"encoding":{"x":{"field":"x","type":"quantitative"},"y":{"field":"y","type":"quantitative"}}},
{"data":{"name":"PL"},"transform":[{"filter":"datum.p=='A'"}],"mark":{"type":"text","text":"<0.001","align":"left","fontSize":16.5,"fontWeight":"bold","color":"#F39A2B"},"encoding":{"x":{"field":"x","type":"quantitative"},"y":{"field":"y","type":"quantitative"}}}
]}
],"spacing":46,"bounds":"flush"},
{"hconcat":[
{"width":703,"height":112,"title":{"text":"B","anchor":"start","frame":"group","dx":-53,"offset":0,"fontSize":16,"fontWeight":"bold","color":"#111"},
"layer":[
{"data":{"name":"DK"},"mark":{"type":"rect","color":"#7b7b7b"},"encoding":{"x":{"field":"a","type":"quantitative","scale":{"domain":[3,123],"nice":false,"zero":false},"axis":{"values":[6,12,18,24,30,36,42,48,54,60,66,72,78,84,90,96,102,108,114,120],"tickCount":40,"labelExpr":"(datum.value-6)%24==0?datum.label:''","tickSize":-5,"title":null,"labelOverlap":false,"labelPadding":4,"domainColor":"#999","tickColor":"#555"}},"x2":{"field":"b"},"y":{"datum":0,"type":"quantitative","scale":{"domain":[0,69.6],"nice":false,"zero":false},"axis":{"values":[0,20,40,60],"tickCount":40,"title":"Activity","domain":false,"tickSize":4,"labelPadding":2,"titlePadding":4,"labelOverlap":false}},"y2":{"datum":64}}},
{"data":{"name":"TL"},"transform":[{"filter":"datum.p=='B'"}],"mark":"rect","encoding":{"x":{"field":"a","type":"quantitative"},"x2":{"field":"b"},"y":{"datum":64,"type":"quantitative"},"y2":{"datum":69.6},"color":{"field":"c","type":"nominal","scale":{"domain":["+ Auxin","− Auxin"],"range":["#EE3B10","#21CF21"]}}}},
{"data":{"name":"LB"},"mark":{"type":"line","color":"#3a3aa8","strokeWidth":1},"encoding":{"x":{"field":"t","type":"quantitative"},"y":{"field":"v","type":"quantitative"}}}
]},
{"width":533,"height":124,
"layer":[
{"data":{"name":"RB"},"mark":{"type":"bar","orient":"vertical","width":3.7,"stroke":"#000","strokeWidth":0.5},"encoding":{"x":{"field":"x","type":"quantitative","scale":{"domain":[-0.5,143.5],"nice":false,"zero":false},"axis":{"values":[11.5,35.5,59.5,83.5,107.5,131.5],"tickCount":40,"labelExpr":"(datum.value-11.5)%48==0?'ZT0':'ZT12'","ticks":false,"domainColor":"#000","title":null,"labelPadding":3,"labelOverlap":false}},"y":{"field":"v","type":"quantitative","scale":{"domain":[0,81.78],"nice":false},"axis":{"values":[0,20,40,60,80],"tickCount":40,"title":null,"tickSize":4,"labelPadding":2,"labelOverlap":false}},"fill":{"condition":{"test":"datum.x%48>=12&&datum.x%48<36","value":"#ffffff"},"value":"#000000"}}},
{"data":{"name":"RB"},"mark":{"type":"circle","size":6,"color":"#000","opacity":1},"encoding":{"x":{"field":"x","type":"quantitative"},"y":{"field":"d","type":"quantitative"}}},
{"data":{"name":"DV"},"mark":{"type":"rule","color":"#888"},"encoding":{"x":{"field":"x","type":"quantitative"},"y":{"datum":0,"type":"quantitative"},"y2":{"datum":80}}},
{"data":{"name":"TR"},"transform":[{"filter":"datum.p=='B'"}],"mark":"rect","encoding":{"x":{"field":"a","type":"quantitative"},"x2":{"field":"b"},"y":{"datum":74,"type":"quantitative"},"y2":{"datum":80},"color":{"field":"c","type":"nominal","scale":{"domain":["+ Auxin","− Auxin"],"range":["#EE3B10","#21CF21"]}}}},
{"data":{"name":"N"},"transform":[{"filter":"datum.p=='B'&&datum.o==0"}],"mark":{"type":"text","fontSize":16.5,"color":"#1a1a1a"},"encoding":{"x":{"field":"x","type":"quantitative"},"y":{"field":"y","type":"quantitative"},"text":{"field":"t"}}},
{"data":{"name":"N"},"transform":[{"filter":"datum.p=='B'&&datum.o==1"}],"mark":{"type":"text","fontSize":16.5,"fontWeight":"bold","color":"#F39A2B"},"encoding":{"x":{"field":"x","type":"quantitative"},"y":{"field":"y","type":"quantitative"},"text":{"field":"t"}}},
{"data":{"name":"PL"},"transform":[{"filter":"datum.p=='B'"}],"mark":{"type":"text","text":"P","align":"right","fontSize":16.5,"fontWeight":"bold","fontStyle":"italic","color":"#F39A2B"},"encoding":{"x":{"field":"x","type":"quantitative"},"y":{"field":"y","type":"quantitative"}}},
{"data":{"name":"PL"},"transform":[{"filter":"datum.p=='B'"}],"mark":{"type":"text","text":"<0.001","align":"left","fontSize":16.5,"fontWeight":"bold","color":"#F39A2B"},"encoding":{"x":{"field":"x","type":"quantitative"},"y":{"field":"y","type":"quantitative"}}}
]}
],"spacing":46,"bounds":"flush"},
{"hconcat":[
{"width":703,"height":117,"title":{"text":"C","anchor":"start","frame":"group","dx":-53,"offset":0,"fontSize":16,"fontWeight":"bold","color":"#111"},
"layer":[
{"data":{"name":"DK"},"mark":{"type":"rect","color":"#7b7b7b"},"encoding":{"x":{"field":"a","type":"quantitative","scale":{"domain":[3,123],"nice":false,"zero":false},"axis":{"values":[6,12,18,24,30,36,42,48,54,60,66,72,78,84,90,96,102,108,114,120],"tickCount":40,"labelExpr":"(datum.value-6)%24==0?datum.label:''","tickSize":-5,"title":null,"labelOverlap":false,"labelPadding":4,"domainColor":"#999","tickColor":"#555"}},"x2":{"field":"b"},"y":{"datum":0,"type":"quantitative","scale":{"domain":[0,56.33],"nice":false,"zero":false},"axis":{"values":[0,20,40],"tickCount":40,"title":"Activity","domain":false,"tickSize":4,"labelPadding":2,"titlePadding":4,"labelOverlap":false}},"y2":{"datum":52}}},
{"data":{"name":"TL"},"transform":[{"filter":"datum.p=='C'"}],"mark":"rect","encoding":{"x":{"field":"a","type":"quantitative"},"x2":{"field":"b"},"y":{"datum":52,"type":"quantitative"},"y2":{"datum":56.33},"color":{"field":"c","type":"nominal","scale":{"domain":["+ Auxin","− Auxin"],"range":["#EE3B10","#21CF21"]}}}},
{"data":{"name":"LC"},"mark":{"type":"line","color":"#3a3aa8","strokeWidth":1},"encoding":{"x":{"field":"t","type":"quantitative"},"y":{"field":"v","type":"quantitative"}}}
]},
{"width":533,"height":124,
"layer":[
{"data":{"name":"RC"},"mark":{"type":"bar","orient":"vertical","width":3.7,"stroke":"#000","strokeWidth":0.5},"encoding":{"x":{"field":"x","type":"quantitative","scale":{"domain":[-0.5,143.5],"nice":false,"zero":false},"axis":{"values":[11.5,35.5,59.5,83.5,107.5,131.5],"tickCount":40,"labelExpr":"(datum.value-11.5)%48==0?'ZT0':'ZT12'","ticks":false,"domainColor":"#000","title":null,"labelPadding":3,"labelOverlap":false}},"y":{"field":"v","type":"quantitative","scale":{"domain":[0,80.5],"nice":false},"axis":{"values":[0,20,40,60,80],"tickCount":40,"title":null,"tickSize":4,"labelPadding":2,"labelOverlap":false}},"fill":{"condition":{"test":"datum.x%48>=12&&datum.x%48<36","value":"#ffffff"},"value":"#000000"}}},
{"data":{"name":"RC"},"mark":{"type":"circle","size":6,"color":"#000","opacity":1},"encoding":{"x":{"field":"x","type":"quantitative"},"y":{"field":"d","type":"quantitative"}}},
{"data":{"name":"DV"},"mark":{"type":"rule","color":"#888"},"encoding":{"x":{"field":"x","type":"quantitative"},"y":{"datum":0,"type":"quantitative"},"y2":{"datum":80}}},
{"data":{"name":"TR"},"transform":[{"filter":"datum.p=='C'"}],"mark":"rect","encoding":{"x":{"field":"a","type":"quantitative"},"x2":{"field":"b"},"y":{"datum":74,"type":"quantitative"},"y2":{"datum":80},"color":{"field":"c","type":"nominal","scale":{"domain":["+ Auxin","− Auxin"],"range":["#EE3B10","#21CF21"]}}}},
{"data":{"name":"N"},"transform":[{"filter":"datum.p=='C'&&datum.o==0"}],"mark":{"type":"text","fontSize":16.5,"color":"#1a1a1a"},"encoding":{"x":{"field":"x","type":"quantitative"},"y":{"field":"y","type":"quantitative"},"text":{"field":"t"}}}
]}
],"spacing":46,"bounds":"flush"},
{"hconcat":[
{"width":703,"height":116,"title":{"text":"D","anchor":"start","frame":"group","dx":-53,"offset":0,"fontSize":16,"fontWeight":"bold","color":"#111"},
"layer":[
{"data":{"name":"DK"},"mark":{"type":"rect","color":"#7b7b7b"},"encoding":{"x":{"field":"a","type":"quantitative","scale":{"domain":[3,123],"nice":false,"zero":false},"axis":{"values":[6,12,18,24,30,36,42,48,54,60,66,72,78,84,90,96,102,108,114,120],"tickCount":40,"labelExpr":"(datum.value-6)%24==0?datum.label:''","tickSize":-5,"title":"time (h)","titlePadding":2,"labelOverlap":false,"labelPadding":4,"domainColor":"#999","tickColor":"#555"}},"x2":{"field":"b"},"y":{"datum":0,"type":"quantitative","scale":{"domain":[0,41.98],"nice":false,"zero":false},"axis":{"values":[0,10,20,30],"tickCount":40,"title":"Activity","domain":false,"tickSize":4,"labelPadding":2,"titlePadding":4,"labelOverlap":false}},"y2":{"datum":38}}},
{"data":{"name":"TL"},"transform":[{"filter":"datum.p=='D'"}],"mark":"rect","encoding":{"x":{"field":"a","type":"quantitative"},"x2":{"field":"b"},"y":{"datum":38,"type":"quantitative"},"y2":{"datum":41.98},"color":{"field":"c","type":"nominal","scale":{"domain":["+ Auxin","− Auxin"],"range":["#EE3B10","#21CF21"]}}}},
{"data":{"name":"LD"},"mark":{"type":"line","color":"#3a3aa8","strokeWidth":1},"encoding":{"x":{"field":"t","type":"quantitative"},"y":{"field":"v","type":"quantitative"}}}
]},
{"width":533,"height":121,
"layer":[
{"data":{"name":"RD"},"mark":{"type":"bar","orient":"vertical","width":3.7,"stroke":"#000","strokeWidth":0.5},"encoding":{"x":{"field":"x","type":"quantitative","scale":{"domain":[-0.5,143.5],"nice":false,"zero":false},"axis":{"values":[11.5,35.5,59.5,83.5,107.5,131.5],"tickCount":40,"labelExpr":"(datum.value-11.5)%48==0?'ZT0':'ZT12'","ticks":false,"domainColor":"#000","title":null,"labelPadding":3,"labelOverlap":false}},"y":{"field":"v","type":"quantitative","scale":{"domain":[0,82.03],"nice":false},"axis":{"values":[0,20,40,60,80],"tickCount":40,"title":null,"tickSize":4,"labelPadding":2,"labelOverlap":false}},"fill":{"condition":{"test":"datum.x%48>=12&&datum.x%48<36","value":"#ffffff"},"value":"#000000"}}},
{"data":{"name":"RD"},"mark":{"type":"circle","size":6,"color":"#000","opacity":1},"encoding":{"x":{"field":"x","type":"quantitative"},"y":{"field":"d","type":"quantitative"}}},
{"data":{"name":"DV"},"mark":{"type":"rule","color":"#888"},"encoding":{"x":{"field":"x","type":"quantitative"},"y":{"datum":0,"type":"quantitative"},"y2":{"datum":80}}},
{"data":{"name":"TR"},"transform":[{"filter":"datum.p=='D'"}],"mark":"rect","encoding":{"x":{"field":"a","type":"quantitative"},"x2":{"field":"b"},"y":{"datum":74,"type":"quantitative"},"y2":{"datum":80},"color":{"field":"c","type":"nominal","scale":{"domain":["+ Auxin","− Auxin"],"range":["#EE3B10","#21CF21"]}}}},
{"data":{"name":"N"},"transform":[{"filter":"datum.p=='D'&&datum.o==0"}],"mark":{"type":"text","fontSize":16.5,"color":"#1a1a1a"},"encoding":{"x":{"field":"x","type":"quantitative"},"y":{"field":"y","type":"quantitative"},"text":{"field":"t"}}}
]}
],"spacing":46,"bounds":"flush"}
]
}
